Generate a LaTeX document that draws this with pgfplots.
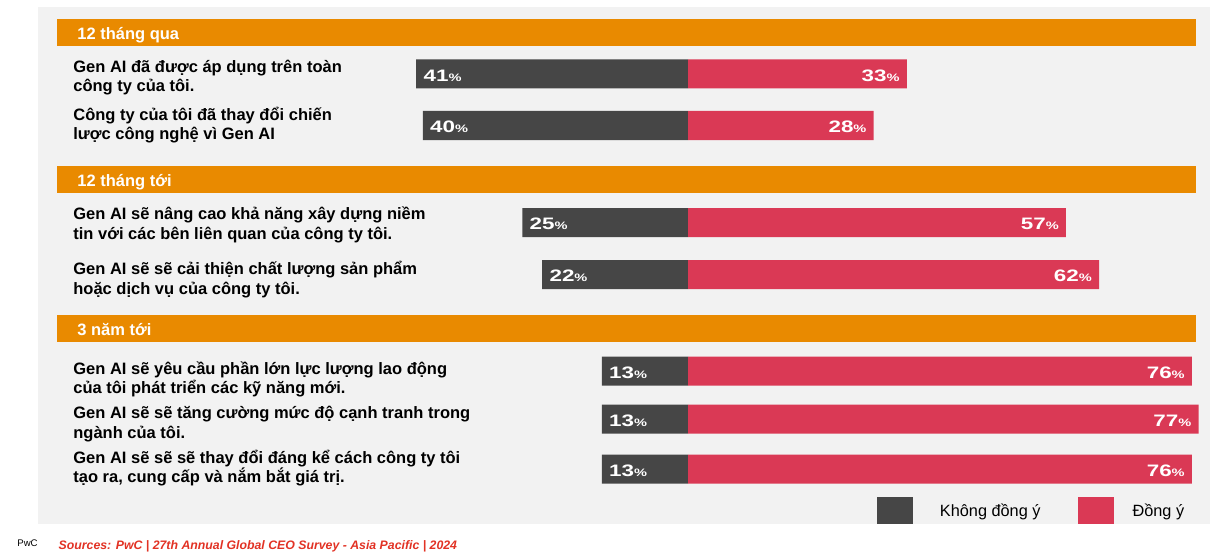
\documentclass[border=0pt]{standalone}
\usepackage{fontspec}
\setmainfont{Liberation Sans}
\newfontfamily\pctfont{Liberation Sans}[FakeStretch=1.35]
\usepackage{pgfplots}
\usepackage{pgfplotstable}
\pgfplotsset{compat=1.18}
\definecolor{bgc}{RGB}{242,242,242}
\definecolor{hdr}{RGB}{233,138,0}
\definecolor{discol}{RGB}{70,70,70}
\definecolor{agrcol}{RGB}{218,57,85}
\definecolor{srccol}{RGB}{226,50,36}

\pgfplotstableread{
y dis agr
74 41 33
125.5 40 28
222.5 25 57
274.5 22 62
371 13 76
419 13 77
469 13 76
}\datatable

\newcommand\pct[1]{{\pctfont\bfseries\fontsize{8.3}{8.3}\selectfont #1{\fontsize{5.4}{5.4}\selectfont\%}}}
\newcommand\lbl{\fontsize{8.25}{9}\selectfont\bfseries}

\begin{document}
\begin{tikzpicture}
\begin{scope}[x=0.5pt,y=-0.5pt]
\fill[white] (0,0) rectangle (1219,560);
\fill[bgc] (38,7) rectangle (1210,524);
\fill[hdr] (57,19) rectangle (1196,46.5);
\fill[hdr] (57,166) rectangle (1196,193);
\fill[hdr] (57,315) rectangle (1196,342);
\end{scope}
\begin{axis}[
  at={(0,0)}, anchor=north west,
  width=609.5pt, height=280pt, scale only axis,
  xmin=-103.77, xmax=80.09, ymin=0, ymax=560, y dir=reverse,
  axis lines=none, ticks=none, clip=false,
  xbar, bar width=14.5pt,
  legend style={at={(axis description cs:0.7194,0.0643)}, anchor=south west,
    draw=none, fill=none, inner sep=0pt, outer sep=0pt,
    nodes={inner sep=0pt, text depth=0pt},
    cells={anchor=west},
    legend columns=2,
    font=\fontsize{8.15}{9}\selectfont,
    /tikz/every odd column/.append style={column sep=13.5pt},
    /tikz/every even column/.append style={column sep=18.5pt}},
  legend image code/.code={\fill[#1] (0pt,-6.75pt) rectangle (18pt,6.75pt);},
]
\addplot[xbar, bar shift=0pt, fill=discol, draw=none, point meta=explicit,
  nodes near coords={\pct{\pgfmathprintnumber[assume math mode=true]{\pgfplotspointmeta}}},
  nodes near coords style={anchor=west, inner sep=0pt, xshift=3.5pt, yshift=-0.8pt, text=white}]
  table[x expr=-\thisrow{dis}, y=y, meta=dis]{\datatable};
\addlegendentry{Không đồng ý}
\addplot[xbar, bar shift=0pt, fill=agrcol, draw=none, point meta=explicit,
  nodes near coords={\pct{\pgfmathprintnumber[assume math mode=true]{\pgfplotspointmeta}}},
  nodes near coords style={anchor=east, inner sep=0pt, xshift=-3.4pt, yshift=-0.8pt, text=white}]
  table[x=agr, y=y, meta=agr]{\datatable};
\addlegendentry{\hspace{-4pt}Đồng ý}
\end{axis}
\begin{scope}[x=0.5pt,y=-0.5pt, every node/.style={inner sep=0pt, anchor=base west}]
\node[text=white, font=\lbl] at (77,40) {12 tháng qua};
\node[text=white, font=\lbl] at (77,187) {12 tháng tới};
\node[text=white, font=\lbl] at (77,336) {3 năm tới};
\node[font=\lbl] at (73,72.5) {Gen AI đã được áp dụng trên toàn};
\node[font=\lbl] at (73,91.5) {công ty của tôi.};
\node[font=\lbl] at (73,121) {Công ty của tôi đã thay đổi chiến};
\node[font=\lbl] at (73,140) {lược công nghệ vì Gen AI};
\node[font=\lbl] at (73,220) {Gen AI sẽ nâng cao khả năng xây dựng niềm};
\node[font=\lbl] at (73,239.5) {tin với các bên liên quan của công ty tôi.};
\node[font=\lbl] at (73,275) {Gen AI sẽ sẽ cải thiện chất lượng sản phẩm};
\node[font=\lbl] at (73,294.5) {hoặc dịch vụ của công ty tôi.};
\node[font=\lbl] at (73,375) {Gen AI sẽ yêu cầu phần lớn lực lượng lao động};
\node[font=\lbl] at (73,394) {của tôi phát triển các kỹ năng mới.};
\node[font=\lbl] at (73,419) {Gen AI sẽ sẽ tăng cường mức độ cạnh tranh trong};
\node[font=\lbl] at (73,438) {ngành của tôi.};
\node[font=\lbl] at (73,463.5) {Gen AI sẽ sẽ sẽ thay đổi đáng kể cách công ty tôi};
\node[font=\lbl] at (73,482.5) {tạo ra, cung cấp và nắm bắt giá trị.};
\node[font=\fontsize{4.8}{5}\selectfont] at (17,546.7) {PwC};
\node[font=\fontsize{6.15}{6.5}\selectfont\bfseries\itshape, text=srccol] at (58.3,549) {Sources: PwC | 27th Annual Global CEO Survey - Asia Pacific | 2024};
\end{scope}
\end{tikzpicture}
\end{document}
